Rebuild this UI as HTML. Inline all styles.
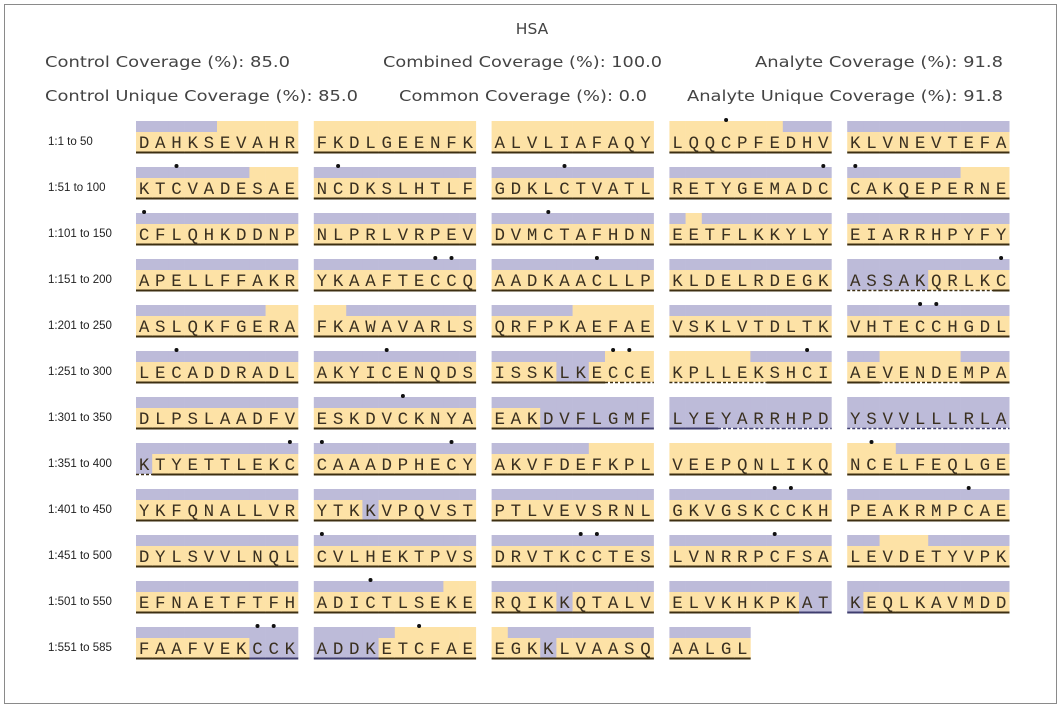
<!DOCTYPE html>
<html><head><meta charset="utf-8"><style>
html,body{margin:0;padding:0;background:#fff}
svg{display:block}
</style></head><body>
<svg id="map" width="1061" height="710" viewBox="0 0 1061 710" xmlns="http://www.w3.org/2000/svg">
<rect x="4.5" y="4.5" width="1052" height="699" fill="#fff" stroke="#8a8a8a" stroke-width="1"/>
<text x="532" y="34" font-family="DejaVu Sans, sans-serif" font-size="15.5" fill="#444" text-anchor="middle">HSA</text>
<g font-family="DejaVu Sans, sans-serif" font-size="15.5" fill="#444">
<text x="45" y="67" textLength="245" lengthAdjust="spacingAndGlyphs">Control Coverage (%): 85.0</text>
<text x="383" y="67" textLength="279" lengthAdjust="spacingAndGlyphs">Combined Coverage (%): 100.0</text>
<text x="755" y="67" textLength="248" lengthAdjust="spacingAndGlyphs">Analyte Coverage (%): 91.8</text>
<text x="45" y="101" textLength="313" lengthAdjust="spacingAndGlyphs">Control Unique Coverage (%): 85.0</text>
<text x="399" y="101" textLength="248" lengthAdjust="spacingAndGlyphs">Common Coverage (%): 0.0</text>
<text x="687" y="101" textLength="316" lengthAdjust="spacingAndGlyphs">Analyte Unique Coverage (%): 91.8</text>
</g>
<g id="grid"></g>
</svg>
<script>
const sequences = ["DAHKSEVAHR","FKDLGEENFK","ALVLIAFAQY","LQQCPFEDHV","KLVNEVTEFA","KTCVADESAE","NCDKSLHTLF","GDKLCTVATL","RETYGEMADC","CAKQEPERNE","CFLQHKDDNP","NLPRLVRPEV","DVMCTAFHDN","EETFLKKYLY","EIARRHPYFY","APELLFFAKR","YKAAFTECCQ","AADKAACLLP","KLDELRDEGK","ASSAKQRLKC","ASLQKFGERA","FKAWAVARLS","QRFPKAEFAE","VSKLVTDLTK","VHTECCHGDL","LECADDRADL","AKYICENQDS","ISSKLKECCE","KPLLEKSHCI","AEVENDEMPA","DLPSLAADFV","ESKDVCKNYA","EAKDVFLGMF","LYEYARRHPD","YSVVLLLRLA","KTYETTLEKC","CAAADPHECY","AKVFDEFKPL","VEEPQNLIKQ","NCELFEQLGE","YKFQNALLVR","YTKKVPQVST","PTLVEVSRNL","GKVGSKCCKH","PEAKRMPCAE","DYLSVVLNQL","CVLHEKTPVS","DRVTKCCTES","LVNRRPCFSA","LEVDETYVPK","EFNAETFTFH","ADICTLSEKE","RQIKKQTALV","ELVKHKPKAT","KEQLKAVMDD","FAAFVEKCCK","ADDKETCFAE","EGKKLVAASQ","AALGL"];
const controlTop = ["pppppyyyyy","yyyyyyyyyy","yyyyyyyyyy","yyyyyyyppp","pppppppppp","pppppppyyy","pppppppppp","pppppppppp","pppppppppp","pppppppyyy","pppppppppp","pppppppppp","pppppppppp","pyppppppppp","pppppppppp","pppppppppp","pppppppppp","pppppppppp","pppppppppp","pppppppppp","ppppppppyy","yypppppppp","pppppyyyyy","pppppppppp","pppppppppp","pppppppppp","pppppppppp","pppppppyyy","yyyyyppppp","ppyyyyyppp","pppppppppp","pppppppppp","pppppppppp","pppppppppp","pppppppppp","pppppppppp","pppppppppp","ppppppyyyy","yyyyyyyyyy","yyyppppppp","pppppppppp","pppppppppp","pppppppppp","pppppppppp","pppppppppp","pppppppppp","pppppppppp","pppppppppp","pppppppppp","ppyyyppppp","pppppppppp","ppppppppyy","pppppppppp","pppppppppp","pppppppppp","pppppppppp","pppppyyyyy","yppppppppp","ppppp"];
const analyteBottom = ["yyyyyyyyyy","yyyyyyyyyy","yyyyyyyyyy","yyyyyyyyyy","yyyyyyyyyy","yyyyyyyyyy","yyyyyyyyyy","yyyyyyyyyy","yyyyyyyyyy","yyyyyyyyyy","yyyyyyyyyy","yyyyyyyyyy","yyyyyyyyyy","yyyyyyyyyy","yyyyyyyyyy","yyyyyyyyyy","yyyyyyyyyy","yyyyyyyyyy","yyyyyyyyyy","pppppyyyyy","yyyyyyyyyy","yyyyyyyyyy","yyyyyyyyyy","yyyyyyyyyy","yyyyyyyyyy","yyyyyyyyyy","yyyyyyyyyy","yyyyppyyyy","yyyyyyyyyy","yyyyyyyyyy","yyyyyyyyyy","yyyyyyyyyy","yyyppppppp","pppppppppp","pppppppppp","pyyyyyyyyy","yyyyyyyyyy","yyyyyyyyyy","yyyyyyyyyy","yyyyyyyyyy","yyyyyyyyyy","yyypyyyyyy","yyyyyyyyyy","yyyyyyyyyy","yyyyyyyyyy","yyyyyyyyyy","yyyyyyyyyy","yyyyyyyyyy","yyyyyyyyyy","yyyyyyyyyy","yyyyyyyyyy","yyyyyyyyyy","yyyypyyyyy","yyyyyyyypp","pyyyyyyyyy","yyyyyyyppp","ppppyyyyyy","yyypyyyyyy","yyyyy"];
const underline = ["ssssssssss","ssssssssss","ssssssssss","ssssssssss","ssssssssss","ssssssssss","ssssssssss","ssssssssss","ssssssssss","ssssssssss","ssssssssss","ssssssssss","ssssssssss","ssssssssss","ssssssssss","ssssssssss","ssssssssss","ssssssssss","ssssssssss","ddddddddds","ssssssssss","ssssssssss","ssssssssss","ssssssssss","ssssssssss","ssssssssss","ssssssssss","sssssssddd","ddddddsssss","ssdddddsss","ssssssssss","ssssssssss","sssbbbbbbb","bbbeeeeeee","eeeeeeeeee","dsssssssss","ssssssssss","ssssssssss","ssssssssss","ssssssssss","ssssssssss","ssssssssss","ssssssssss","ssssssssss","ssssssssss","ssssssssss","ssssssssss","ssssssssss","ssssssssss","ssssssssss","ssssssssss","ssssssssss","ssssssssss","ssssssssbb","bsssssssss","sssssssbbb","bbbbssssss","ssssssssss","sssss"];
const rowLabels = ["1:1 to 50","1:51 to 100","1:101 to 150","1:151 to 200","1:201 to 250","1:251 to 300","1:301 to 350","1:351 to 400","1:401 to 450","1:451 to 500","1:501 to 550","1:551 to 585"];

const NS = "http://www.w3.org/2000/svg";
const g = document.getElementById('grid');
const PURPLE = "#bdbbd9", YELLOW = "#fde2a6";
const X0 = 136, BLOCK_PITCH = 177.8, CH = 16.2, Y0 = 121, ROW_PITCH = 46;
function mk(tag, attrs){const e=document.createElementNS(NS,tag);for(const k in attrs)e.setAttribute(k,attrs[k]);return e;}
rowLabels.forEach((lab,r)=>{
  const t = mk('text',{x:48,y:Y0+r*ROW_PITCH+24,'font-family':'Liberation Sans, sans-serif','font-size':'11.5',fill:'#222'});
  
  
  t.textContent = lab; g.appendChild(t);
});
sequences.forEach((seq,b)=>{
  const r = Math.floor(b/5), c = b%5;
  const bx = X0 + c*BLOCK_PITCH, by = Y0 + r*ROW_PITCH;
  const grp = mk('g',{});
  
  
  for(let i=0;i<seq.length;i++){
    const x = bx + i*CH;
    const top = controlTop[b][i]==='p'?PURPLE:YELLOW;
    const bot = analyteBottom[b][i]==='p'?PURPLE:YELLOW;
    grp.appendChild(mk('rect',{x:x,y:by,width:CH+0.3,height:11,fill:top}));
    grp.appendChild(mk('rect',{x:x,y:by+11,width:CH+0.3,height:20,fill:bot}));
    const u = underline[b][i];
    const col = (u==='b'||u==='e')?'#3e3d6e':'#3d2f12';
    const ln = mk('line',{x1:x,x2:x+CH+0.3,y1:by+31.5,y2:by+31.5,stroke:col,'stroke-width':2});
    if(u==='d'||u==='e'){ln.setAttribute('stroke-dasharray','3 2');ln.setAttribute('stroke-width','1.5');}
    grp.appendChild(ln);
    const t = mk('text',{x:x+CH/2,y:by+27,'text-anchor':'middle','font-family':'Liberation Mono, monospace','font-size':'17.5',fill:'#3a3020'});
    
    
    t.textContent = seq[i]; grp.appendChild(t);
    if(seq[i]==='C') grp.appendChild(mk('circle',{cx:x+CH/2,cy:by-1,r:2,fill:'#111'}));
  }
  g.appendChild(grp);
});
</script>
</body></html>
